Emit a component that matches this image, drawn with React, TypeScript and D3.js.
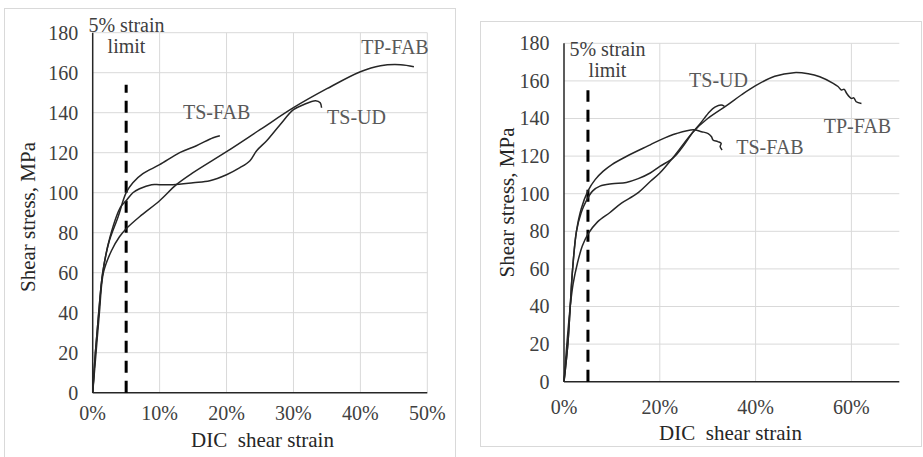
import React from 'react';
import * as d3 from 'd3';

// strain (%) , shear stress (MPa)
const leftTsFab = [[0, 0], [0.4, 20], [0.9, 40], [1.5, 60], [2.4, 75], [3.8, 88], [5, 100], [6, 105], [7.5, 109.5], [10, 114], [13, 120], [15.5, 123.5], [18, 127.5], [19, 128.5]];
const leftTsUd = [[0, 0], [0.4, 20], [0.9, 40], [1.5, 60], [2.6, 78], [4.2, 93], [5, 96], [6, 100], [7, 102], [8.8, 104], [10, 104], [12, 104], [15, 105], [17.5, 106], [20, 109], [22, 112.5], [23.5, 116], [24.5, 121], [26, 126], [28, 134], [30, 141.5], [31.5, 144], [33.3, 146], [34, 145], [34.2, 142.5]];
const leftTpFab = [[0, 0], [0.5, 20], [1, 40], [1.6, 60], [2.8, 71], [4, 78], [5, 82], [7, 88], [10, 96], [12.5, 104], [15, 110], [20, 120.5], [25, 131.5], [30, 142.5], [35, 152], [40, 160.5], [43, 163.5], [46, 164], [48, 163]];

const rightTsFab = [[0, 0], [0.8, 20], [1.3, 40], [1.8, 60], [2.6, 80], [3.6, 92], [5, 101.5], [6.5, 107.5], [8.2, 112], [10, 115.5], [13, 119.8], [18, 126], [20, 128.5], [23.5, 132], [27, 134], [28.7, 133], [30.1, 132], [30.8, 130.3], [31.1, 128.6], [32.1, 127.7], [32.8, 126.8], [32.6, 125], [33, 123.2]];
const rightTsUd = [[0, 0], [0.8, 20], [1.3, 40], [1.8, 60], [2.6, 80], [3.6, 90], [4.7, 96.5], [6, 101.5], [7.5, 104], [10, 105.3], [13, 106], [15.5, 108], [18, 111], [20, 114.5], [22.8, 119], [24.5, 124], [27, 133], [28.5, 137.5], [30.4, 143.6], [31.5, 146], [32.8, 147.2], [33.5, 146.5]];
const rightTpFab = [[0, 0], [0.6, 20], [1.3, 40], [1.9, 52], [2.8, 63], [3.8, 72], [5, 78.5], [7, 85], [9.6, 90], [12, 95], [15.2, 100], [18, 106.5], [20, 111], [23, 120], [27, 133], [30, 140], [34, 147], [37, 152.5], [40, 157.5], [44, 162.5], [48, 164.4], [51, 163.8], [53.4, 162.2], [56.2, 158.7], [57.2, 157], [57.9, 155.2], [58.5, 155.5], [59, 153.4], [60, 150.7], [60.5, 151], [61, 148.9], [62.1, 148]];

const stressTicks = [0, 20, 40, 60, 80, 100, 120, 140, 160, 180];
const leftStrainTicks = [0, 10, 20, 30, 40, 50];
const rightStrainTicks = [0, 20, 40, 60];
const strainLimit = 5;

const serifStyle = { fontFamily: "'Liberation Serif', 'Times New Roman', serif" };

const Panel = ({ cfg }) => {
  const x = d3.scaleLinear().domain([0, cfg.xMax]).range([cfg.left, cfg.right]);
  const y = d3.scaleLinear().domain([0, 180]).range([cfg.bottom, cfg.top]);
  const line = d3.line<number[]>()
    .x(d => x(d[0]))
    .y(d => y(d[1]))
    .curve(d3.curveCatmullRom.alpha(0.5));

  return (
    <g>
      <rect x={cfg.box[0]} y={cfg.box[1]} width={cfg.box[2]} height={cfg.box[3]} fill="#fff" stroke="#d9d9d9" />
      {/* grid */}
      {stressTicks.slice(1).map(t => (
        <line key={'h' + t} x1={x(0)} x2={x(cfg.xMax)} y1={y(t)} y2={y(t)} stroke="#d9d9d9" />
      ))}
      {cfg.xTicks.slice(1).map(t => (
        <line key={'v' + t} x1={x(t)} x2={x(t)} y1={y(0)} y2={y(180)} stroke="#d9d9d9" />
      ))}
      {/* axes */}
      <line x1={x(0)} x2={x(0)} y1={y(0)} y2={y(180)} stroke="#262626" strokeWidth={1.5} />
      <line x1={x(0)} x2={x(cfg.xMax)} y1={y(0)} y2={y(0)} stroke="#262626" strokeWidth={1.5} />
      {stressTicks.map(t => (
        <text key={'yl' + t} x={x(0) - 14.5} y={y(t)} dy="0.34em" textAnchor="end" fontSize={20} fill="#404040" style={serifStyle}>{t}</text>
      ))}
      {cfg.xTicks.map(t => (
        <text key={'xl' + t} x={x(t)} y={cfg.xLabelY} dy="0.34em" textAnchor="middle" fontSize={20} fill="#404040" style={serifStyle}>{t + '%'}</text>
      ))}
      <text x={cfg.xTitle[0]} y={cfg.xTitle[1]} dy="0.34em" textAnchor="middle" fontSize={21} fill="#262626" style={{ ...serifStyle, whiteSpace: 'pre' }}>DIC  shear strain</text>
      <text transform={`translate(${cfg.yTitle[0]},${cfg.yTitle[1]}) rotate(-90)`} dy="0.34em" textAnchor="middle" fontSize={21} fill="#262626" style={serifStyle}>Shear stress, MPa</text>

      {/* 5% strain limit */}
      <line x1={x(strainLimit)} x2={x(strainLimit)} y1={y(0)} y2={y(cfg.limitTop)} stroke="#000" strokeWidth={3} strokeDasharray="12,8" />
      <text x={cfg.limitText[0]} y={cfg.limitText[1]} dy="0.34em" textAnchor="middle" fontSize={20} fill="#404040" style={serifStyle}>5% strain</text>
      <text x={cfg.limitText[0]} y={cfg.limitText[1] + 21} dy="0.34em" textAnchor="middle" fontSize={20} fill="#404040" style={serifStyle}>limit</text>

      {cfg.series.map(s => (
        <g key={s.name}>
          <path d={line(s.data)} fill="none" stroke="#262626" strokeWidth={1.5} />
          <text x={s.label[0]} y={s.label[1]} dy="0.34em" textAnchor="middle" fontSize={20} fill="#595959" style={serifStyle}>{s.name}</text>
        </g>
      ))}
    </g>
  );
};

export default function App() {
  const leftCfg = {
    box: [4.5, 8.5, 451, 460],
    left: 92.7, right: 427.3, bottom: 392.7, top: 32.7,
    xMax: 50, xTicks: leftStrainTicks, xLabelY: 413,
    xTitle: [262.5, 440], yTitle: [28, 217],
    limitTop: 154, limitText: [126.5, 25],
    series: [
      { name: 'TS-FAB', data: leftTsFab, label: [216.7, 112] },
      { name: 'TS-UD', data: leftTsUd, label: [356.5, 117] },
      { name: 'TP-FAB', data: leftTpFab, label: [395, 47] },
    ],
  };
  const rightCfg = {
    box: [480.5, 21.5, 441, 425],
    left: 564, right: 899.3, bottom: 381.7, top: 43.3,
    xMax: 70, xTicks: rightStrainTicks, xLabelY: 406.7,
    xTitle: [730.5, 432.7], yTitle: [507.3, 202.5],
    limitTop: 155, limitText: [607.5, 49],
    series: [
      { name: 'TS-FAB', data: rightTsFab, label: [770, 147] },
      { name: 'TS-UD', data: rightTsUd, label: [718.5, 80] },
      { name: 'TP-FAB', data: rightTpFab, label: [857.5, 126] },
    ],
  };
  return (
    <svg width={923} height={457} style={{ display: 'block', position: 'absolute', left: 0, top: 0 }}>
      <rect width={923} height={457} fill="#fff" />
      <Panel cfg={leftCfg} />
      <Panel cfg={rightCfg} />
    </svg>
  );
}
